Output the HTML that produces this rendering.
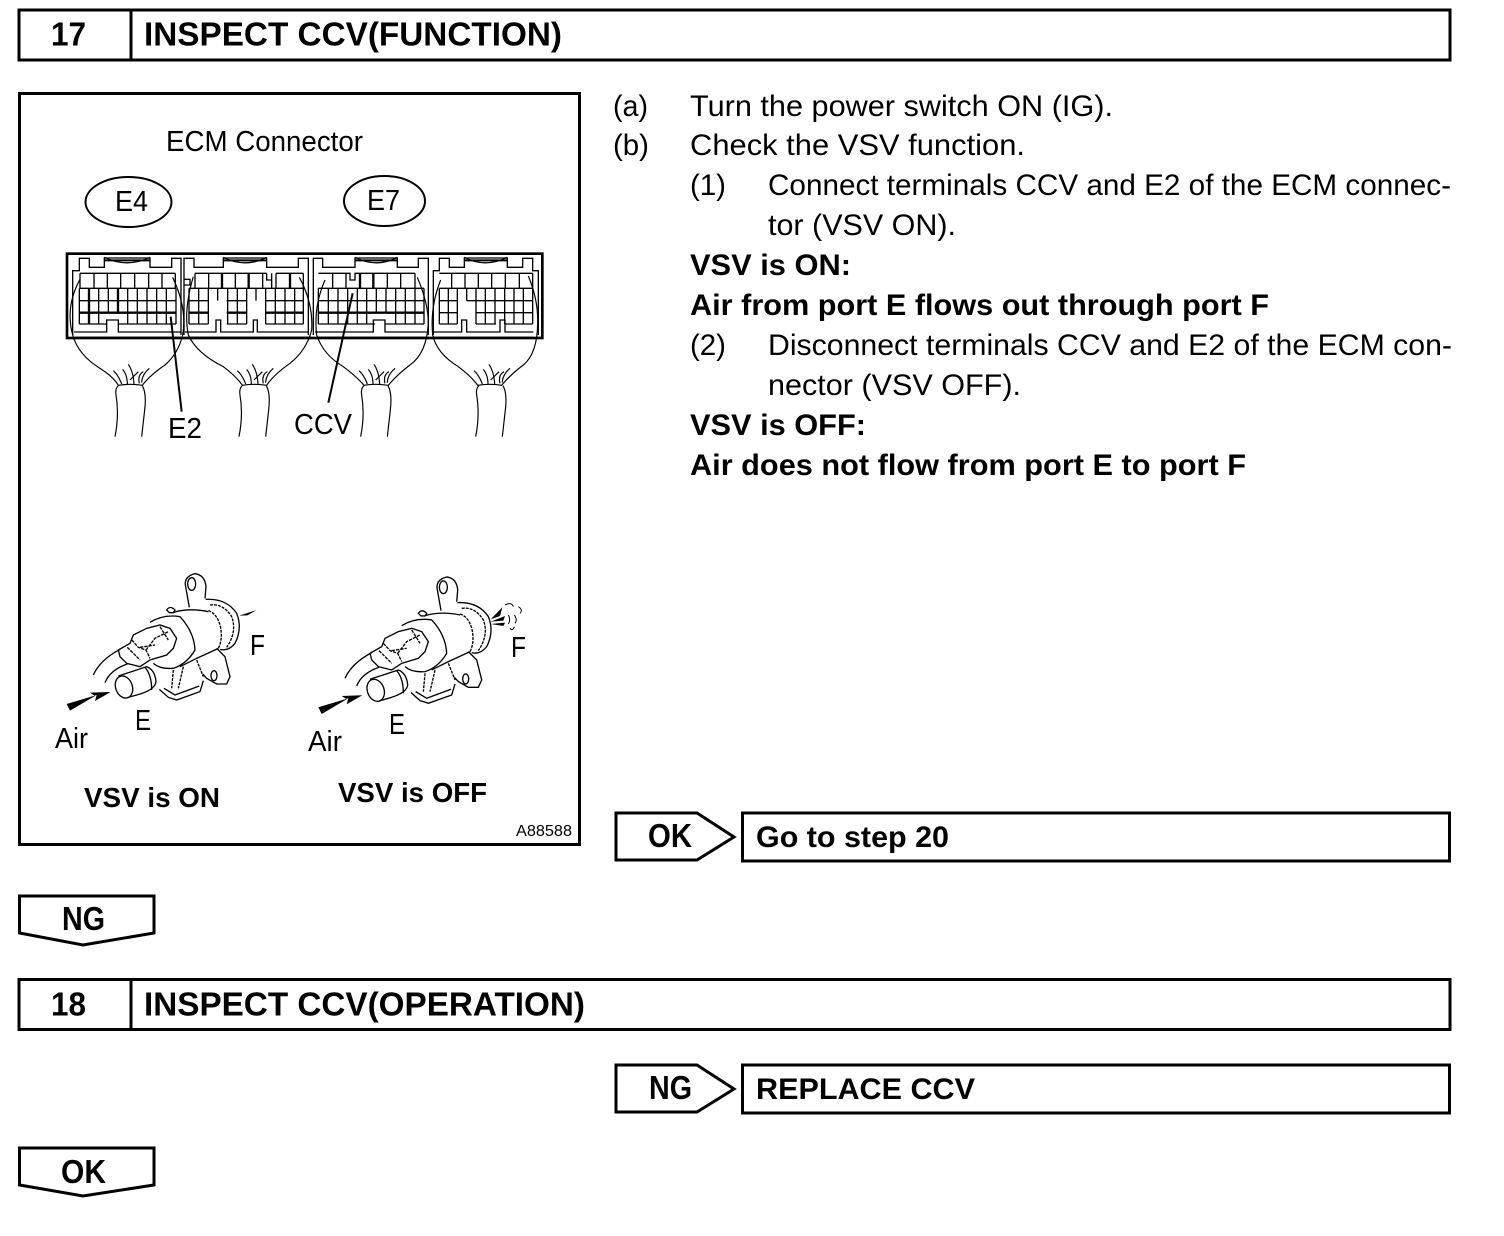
<!DOCTYPE html>
<html><head><meta charset="utf-8"><style>
html,body{margin:0;padding:0;background:#fff}
svg{display:block}
text{font-family:"Liberation Sans",sans-serif;fill:#000}
.r{font-size:30px}
.b{font-size:30px;font-weight:bold}
.v{font-size:28px;font-weight:bold}
.h{font-size:33px;font-weight:bold}
.l{font-size:29px}
.t{fill:none;stroke:#000;stroke-width:3}
.box{fill:#fff;stroke:#000;stroke-width:3}
</style></head><body>
<svg width="1504" height="1236" viewBox="0 0 1504 1236" xmlns="http://www.w3.org/2000/svg">
<defs>
<g id="tube" fill="none" stroke="#000" stroke-width="3.500">
<path d="M205 437Q195 445 198 465Q208 525 195 590M277 437Q290 460 284 510L275 590"/>
<path d="M215 432Q205 405 190 392M232 432Q232 405 218 388M252 432Q250 395 235 373M268 430Q262 405 280 395M275 428Q275 405 298 385M240 420Q255 405 265 395"/>
</g>
<g id="valve" fill="none" stroke="#000" stroke-width="4">
<path d="M448 142L437 80Q430 50 465 41Q495 45 498 80L495 115"/>
<ellipse cx="455" cy="72" rx="12" ry="19"/>
<path d="M497 118Q560 115 590 160Q608 205 585 250Q565 275 540 268"/>
<path d="M510 135Q550 130 575 170Q592 215 560 262M505 152Q530 160 540 195Q550 235 535 265" stroke-dasharray="9 3"/>
<path d="M380 150Q390 135 405 150L400 158H388Z"/>
<path d="M400 157Q450 143 505 155"/>
<path d="M330 187Q370 162 420 170Q462 215 465 270Q440 312 400 325Q360 328 340 310"/>
<path d="M535 265L470 295L420 320"/>
<path d="M280 225L320 205L360 195L390 205L410 235L400 265L380 285L330 300L300 320L260 310L240 290L235 270L270 250Z"/>
<path d="M275 240L295 262L318 270L330 295M318 270L345 235L385 215M262 262L300 300M300 262L345 255M360 200L385 240" stroke-dasharray="10 3"/>
<path d="M160 345Q180 300 240 268M195 368Q210 330 262 312"/>
<ellipse cx="252" cy="381" rx="25" ry="34" transform="rotate(-20 252 381)"/>
<path d="M235 348L320 320Q345 330 348 365Q345 390 290 405L262 413"/>
<path d="M315 322Q335 345 335 390"/>
<path d="M358 388L385 412L410 420L480 395L490 362"/>
<path d="M372 385L405 405L478 378" />
<path d="M400 330L395 385M430 320L415 385M470 300L490 350" stroke-dasharray="9 3"/>
<path d="M530 265L555 290L570 350L560 372H530L500 355L488 342"/>
<ellipse cx="522" cy="347" rx="9" ry="15"/>
<path d="M80 432L170 405L165 423L212 396L150 398L165 408L90 452Z" fill="#000" stroke="none"/>
</g>
</defs>

<!-- Header 17 -->
<rect class="box" x="19" y="10" width="1431" height="50"/>
<path class="t" d="M131 10V60"/>
<text class="h" x="51" y="45.500" textLength="35" lengthAdjust="spacingAndGlyphs">17</text>
<text class="h" x="144" y="45.500" textLength="418" lengthAdjust="spacingAndGlyphs">INSPECT CCV(FUNCTION)</text>

<!-- Illustration -->
<rect class="box" x="19.500" y="93.500" width="560" height="751"/>
<text class="l" x="166" y="151" textLength="197" lengthAdjust="spacingAndGlyphs">ECM Connector</text>
<ellipse cx="128.500" cy="202" rx="43" ry="25" fill="#fff" stroke="#000" stroke-width="2"/>
<ellipse cx="384.500" cy="201" rx="40.500" ry="25" fill="#fff" stroke="#000" stroke-width="2"/>
<text class="l" x="115" y="211" textLength="33" lengthAdjust="spacingAndGlyphs">E4</text>
<text class="l" x="367" y="210" textLength="33" lengthAdjust="spacingAndGlyphs">E7</text>

<g transform="translate(50 240) scale(.33333)">
<rect x="51" y="41" width="1426" height="253" fill="none" stroke="#000" stroke-width="8"/>
<!-- module outlines -->
<g fill="none" stroke="#000" stroke-width="4">
<path d="M68 285V92H88V55H118V82H163V54H300V82H365V55H393V285"/>
<path d="M402 285V118H420V135H402M402 118V55H432V82H520V54H650V82H745V55H775V285"/>
<path d="M790 285V55H818V82H915V54H1042V82H1105V55H1135V285"/>
<path d="M1150 285V92H1168V55H1198V82H1243V54H1372V82H1418V55H1448V92H1465V285"/>
<path d="M72 276H170V240H205V276H392M405 276H498V240H512V276H610V240H622V276H775M795 276H970V240H1005V276H1130M1152 276H1235V240H1250V276H1350V240H1365V276H1450"/>
<path d="M163 52Q230 85 300 52M520 52Q585 85 650 52M915 52Q980 85 1042 52M1243 52Q1305 85 1372 52"/>
</g>
<path fill="none" stroke="#000" stroke-width="6" d="M163 61H300M520 61H650M915 61H1042M1243 61H1372M75 293H392M410 293H785M800 293H1130M1150 293H1450"/>
<!-- grid 1 -->
<path fill="none" stroke="#000" stroke-width="4" d="M90 100H376M90 100V145M132 100V145M172 100V145M212 100V145M254 100V145M296 100V145M336 100V145M376 100V145M88 145H378M88 182H378M88 252H170M205 252H378M88 145V252M146 145V252M175 145V218M233 145V252M262 145V252M291 145V252M320 145V252M349 145V252M378 145V252"/>
<path fill="none" stroke="#000" stroke-width="7" d="M117 145V252M204 145V218M88 218H378"/>
<!-- grid 2 -->
<path fill="none" stroke="#000" stroke-width="4" d="M435 100V145M476 100V145M516 100V145M556 100V145M596 100V145M638 100V145M678 100V145M760 100V145M435 100H650M678 100H760M417 145H760M417 182H475M530 182H590M647 182H760M417 252H475M530 252H590M647 252H760M417 145V252M446 145V252M475 145V252M503 145V182M533 145V252M562 145V252M590 145V252M618 145V182M647 145V252M676 145V252M705 145V252M734 145V252M760 145V252M650 100V120H665V100M665 120V145"/>
<path fill="none" stroke="#000" stroke-width="7" d="M516 100V145M596 100V145M720 100V145M417 218H475M530 218H590M647 218H760"/>
<!-- grid 3 -->
<path fill="none" stroke="#000" stroke-width="4" d="M805 100H900V120H915V100H1095M848 100V145M888 100V145M1012 100V145M1052 100V145M1095 100V145M805 145H1122M805 182H1122M805 252H975M1005 252H1122M805 145V252M835 145V252M864 145V252M893 145V252M922 145V252M950 145V252M979 145V218M1008 145V218M1037 145V252M1066 145V252M1095 145V252M1122 145V252"/>
<path fill="none" stroke="#000" stroke-width="7" d="M930 100V145M970 100V145M805 218H1122"/>
<!-- grid 4 -->
<path fill="none" stroke="#000" stroke-width="4" d="M1168 100H1448M1205 100V145M1245 100V145M1285 100V145M1325 100V145M1366 100V145M1408 100V145M1448 100V145M1168 145H1448M1168 182H1222M1250 182H1448M1168 218H1222M1278 218H1448M1168 252H1222M1278 252H1338M1364 252H1448M1168 145V252M1195 145V252M1222 145V252M1250 145V182M1278 145V252M1306 145V252M1335 145V252M1364 145V252M1392 145V252M1420 145V252M1448 145V252"/>
<!-- harness -->
<g fill="none" stroke="#000" stroke-width="3.500">
<path d="M90 118Q45 200 68 285Q85 345 150 385Q190 410 205 436Q240 430 277 436Q300 405 345 375Q385 340 398 285Q412 205 368 112"/>
<path d="M430 110Q400 210 415 285Q440 340 520 380Q560 410 577 436Q610 430 650 436Q670 405 720 370Q770 330 785 270Q790 190 748 112"/>
<path d="M825 120Q790 200 800 285Q820 345 880 380Q920 410 942 436Q975 430 1015 436Q1040 405 1080 375Q1130 340 1135 250Q1135 190 1102 112"/>
<path d="M1172 120Q1140 200 1148 285Q1160 340 1225 380Q1265 410 1283 436Q1320 430 1355 436Q1380 405 1420 375Q1462 340 1463 250Q1465 180 1435 108"/>
</g>
<use href="#tube"/>
<use href="#tube" x="372"/>
<use href="#tube" x="737"/>
<use href="#tube" x="1082"/>
<path d="M362 230L395 515M908 160L835 488" fill="none" stroke="#000" stroke-width="6"/>
</g>
<text class="l" x="168" y="438" textLength="34" lengthAdjust="spacingAndGlyphs">E2</text>
<text class="l" x="294" y="434" textLength="58" lengthAdjust="spacingAndGlyphs">CCV</text>

<g transform="translate(40 560) scale(.33333)"><use href="#valve"/>
<path d="M598 167L650 150L622 166Z" fill="#000"/></g>
<g transform="translate(291.700 563.300) scale(.33333)"><use href="#valve"/>
<path d="M597 168L632 132L625 158ZM597 175L640 158L635 172ZM597 182L640 178L635 188Z" fill="#000"/>
<path d="M640 125Q660 115 665 130M680 130Q695 140 685 150M668 155Q678 170 670 180M650 155Q658 170 650 182M668 190Q662 205 655 195" fill="none" stroke="#000" stroke-width="3"/></g>

<text class="l" x="250" y="655" textLength="15" lengthAdjust="spacingAndGlyphs">F</text>
<text class="l" x="135" y="730" textLength="16" lengthAdjust="spacingAndGlyphs">E</text>
<text class="l" x="55" y="748" textLength="33" lengthAdjust="spacingAndGlyphs">Air</text>
<text class="l" x="511" y="657" textLength="15" lengthAdjust="spacingAndGlyphs">F</text>
<text class="l" x="389" y="734" textLength="16" lengthAdjust="spacingAndGlyphs">E</text>
<text class="l" x="308" y="751" textLength="34" lengthAdjust="spacingAndGlyphs">Air</text>
<text class="v" x="84" y="807" textLength="136" lengthAdjust="spacingAndGlyphs">VSV is ON</text>
<text class="v" x="338" y="802" textLength="149" lengthAdjust="spacingAndGlyphs">VSV is OFF</text>
<text x="516" y="836" font-size="16" textLength="56" lengthAdjust="spacingAndGlyphs">A88588</text>

<!-- Right text -->
<text class="r" x="613" y="116" textLength="35" lengthAdjust="spacingAndGlyphs">(a)</text>
<text class="r" x="690" y="116" textLength="423" lengthAdjust="spacingAndGlyphs">Turn the power switch ON (IG).</text>
<text class="r" x="613" y="155" textLength="36" lengthAdjust="spacingAndGlyphs">(b)</text>
<text class="r" x="690" y="155" textLength="335" lengthAdjust="spacingAndGlyphs">Check the VSV function.</text>
<text class="r" x="690" y="195" textLength="36" lengthAdjust="spacingAndGlyphs">(1)</text>
<text class="r" x="768" y="195" textLength="683" lengthAdjust="spacingAndGlyphs">Connect terminals CCV and E2 of the ECM connec-</text>
<text class="r" x="768" y="235" textLength="188" lengthAdjust="spacingAndGlyphs">tor (VSV ON).</text>
<text class="b" x="690" y="275" textLength="161" lengthAdjust="spacingAndGlyphs">VSV is ON:</text>
<text class="b" x="690" y="315" textLength="579" lengthAdjust="spacingAndGlyphs">Air from port E flows out through port F</text>
<text class="r" x="690" y="355" textLength="36" lengthAdjust="spacingAndGlyphs">(2)</text>
<text class="r" x="768" y="355" textLength="684" lengthAdjust="spacingAndGlyphs">Disconnect terminals CCV and E2 of the ECM con-</text>
<text class="r" x="768" y="395" textLength="253" lengthAdjust="spacingAndGlyphs">nector (VSV OFF).</text>
<text class="b" x="690" y="435" textLength="176" lengthAdjust="spacingAndGlyphs">VSV is OFF:</text>
<text class="b" x="690" y="475" textLength="556" lengthAdjust="spacingAndGlyphs">Air does not flow from port E to port F</text>

<!-- OK flow -->
<path class="box" d="M616 813H697L734 837L697 860H616Z"/>
<text class="h" x="648" y="847" textLength="44" lengthAdjust="spacingAndGlyphs">OK</text>
<rect class="box" x="742.500" y="813" width="707" height="48"/>
<text class="b" x="756" y="847" textLength="193" lengthAdjust="spacingAndGlyphs">Go to step 20</text>

<!-- NG down -->
<path class="box" d="M19.500 896H154V933L83 945L19.500 933Z"/>
<text class="h" x="62" y="930" textLength="43" lengthAdjust="spacingAndGlyphs">NG</text>

<!-- Header 18 -->
<rect class="box" x="19" y="979.500" width="1431" height="50"/>
<path class="t" d="M131 980V1029"/>
<text class="h" x="51" y="1015.500" textLength="35" lengthAdjust="spacingAndGlyphs">18</text>
<text class="h" x="144" y="1015.500" textLength="441" lengthAdjust="spacingAndGlyphs">INSPECT CCV(OPERATION)</text>

<!-- NG flow -->
<path class="box" d="M616 1065H697L734 1089L697 1112H616Z"/>
<text class="h" x="649" y="1099" textLength="43" lengthAdjust="spacingAndGlyphs">NG</text>
<rect class="box" x="742.500" y="1065" width="707" height="48"/>
<text class="b" x="756" y="1099" textLength="219" lengthAdjust="spacingAndGlyphs">REPLACE CCV</text>

<!-- OK down -->
<path class="box" d="M19.500 1148H154V1185L83 1196L19.500 1185Z"/>
<text class="h" x="61" y="1183" textLength="45" lengthAdjust="spacingAndGlyphs">OK</text>
</svg>
</body></html>
